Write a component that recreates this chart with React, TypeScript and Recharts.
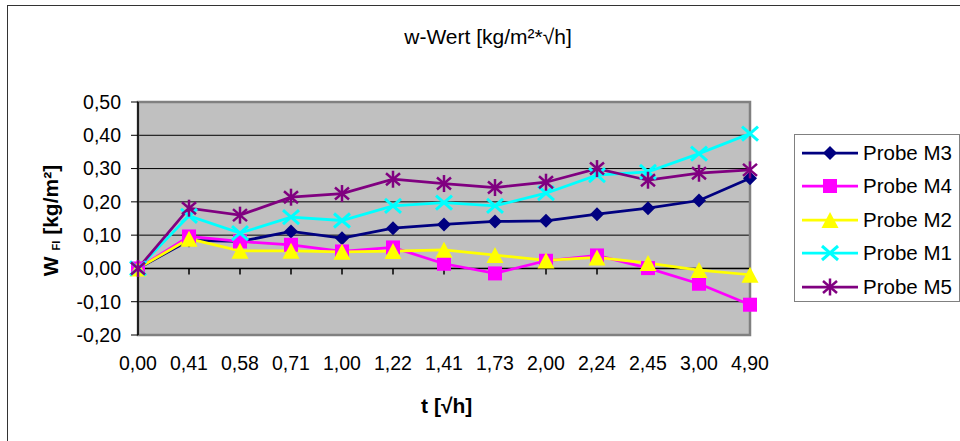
import React from 'react';
import { LineChart, Line, XAxis, YAxis, CartesianGrid, ReferenceLine, ReferenceArea, Legend } from 'recharts';

const categories = ['0,00', '0,41', '0,58', '0,71', '1,00', '1,22', '1,41', '1,73', '2,00', '2,24', '2,45', '3,00', '4,90'];
const probeM3 = [0, 0.084, 0.081, 0.111, 0.091, 0.121, 0.132, 0.141, 0.143, 0.163, 0.181, 0.204, 0.271];
const probeM4 = [0, 0.096, 0.081, 0.071, 0.051, 0.063, 0.014, -0.015, 0.023, 0.039, 0.001, -0.046, -0.109];
const probeM2 = [0, 0.089, 0.053, 0.053, 0.05, 0.052, 0.056, 0.04, 0.024, 0.033, 0.016, -0.005, -0.019];
const probeM1 = [0, 0.158, 0.106, 0.154, 0.144, 0.188, 0.198, 0.188, 0.226, 0.28, 0.29, 0.345, 0.405];
const probeM5 = [0, 0.181, 0.16, 0.214, 0.225, 0.268, 0.255, 0.243, 0.259, 0.3, 0.265, 0.286, 0.296];
const yTicks = [-0.2, -0.1, 0, 0.1, 0.2, 0.3, 0.4, 0.5];

const FONT = 'Arial, "Liberation Sans", sans-serif';

type Shape = 'diamond' | 'square' | 'triangle' | 'cross' | 'star';

const series: Array<{ key: string; name: string; color: string; shape: Shape }> = [
  { key: 'm3', name: 'Probe M3', color: '#000080', shape: 'diamond' },
  { key: 'm4', name: 'Probe M4', color: '#FF00FF', shape: 'square' },
  { key: 'm2', name: 'Probe M2', color: '#FFFF00', shape: 'triangle' },
  { key: 'm1', name: 'Probe M1', color: '#00FFFF', shape: 'cross' },
  { key: 'm5', name: 'Probe M5', color: '#800080', shape: 'star' },
];

const data = categories.map((t, i) => ({
  t,
  m3: probeM3[i],
  m4: probeM4[i],
  m2: probeM2[i],
  m1: probeM1[i],
  m5: probeM5[i],
}));

const fmt = (v: number) => v.toFixed(2).replace('.', ',');

const Marker = ({ shape, cx, cy, color }: { shape: Shape; cx: number; cy: number; color: string }) => {
  switch (shape) {
    case 'diamond':
      return <polygon points={`${cx},${cy - 7} ${cx + 7},${cy} ${cx},${cy + 7} ${cx - 7},${cy}`} fill={color} />;
    case 'square':
      return <rect x={cx - 7} y={cy - 7} width={14} height={14} fill={color} />;
    case 'triangle':
      return <polygon points={`${cx},${cy - 8} ${cx + 8.5},${cy + 8} ${cx - 8.5},${cy + 8}`} fill={color} />;
    case 'cross':
      return (
        <g stroke={color} strokeWidth={3}>
          <line x1={cx - 8} y1={cy - 7} x2={cx + 8} y2={cy + 7} />
          <line x1={cx - 8} y1={cy + 7} x2={cx + 8} y2={cy - 7} />
        </g>
      );
    default:
      return (
        <g stroke={color} strokeWidth={2.5}>
          <line x1={cx - 7} y1={cy - 6} x2={cx + 7} y2={cy + 6} />
          <line x1={cx - 7} y1={cy + 6} x2={cx + 7} y2={cy - 6} />
          <line x1={cx} y1={cy - 8.5} x2={cx} y2={cy + 8.5} />
        </g>
      );
  }
};

const renderLegend = () => (
  <div
    style={{
      boxSizing: 'border-box',
      width: 166,
      height: 168,
      border: '1px solid #808080',
      paddingTop: 1,
      background: '#fff',
    }}
  >
    {series.map((s) => (
      <div key={s.key} style={{ display: 'flex', alignItems: 'center', height: 33.5 }}>
        <svg width={56} height={20} style={{ marginLeft: 7 }}>
          <line x1={0} y1={10} x2={56} y2={10} stroke={s.color} strokeWidth={2.75} />
          <Marker shape={s.shape} cx={28} cy={10} color={s.color} />
        </svg>
        <span style={{ marginLeft: 5, fontSize: 20.5, fontFamily: FONT, color: '#000', whiteSpace: 'nowrap' }}>
          {s.name}
        </span>
      </div>
    ))}
  </div>
);

const App: React.FC = () => {
  return (
    <div
      style={{
        position: 'absolute',
        left: 0,
        top: 0,
        width: 960,
        height: 441,
        overflow: 'hidden',
        background: '#fff',
        fontFamily: FONT,
      }}
    >
      <div style={{ position: 'absolute', left: 7, top: 5, width: 1000, height: 1000, border: '1px solid #333' }} />
      <div
        style={{
          position: 'absolute',
          left: 0,
          top: 26,
          width: 976,
          textAlign: 'center',
          fontSize: 21,
          lineHeight: '21px',
          color: '#000',
        }}
      >
        w-Wert [kg/m²*√h]
      </div>
      <div style={{ position: 'absolute', left: 0, top: 0 }}>
        <LineChart width={960} height={441} data={data} margin={{ top: 102, right: 210, bottom: 0, left: 0 }}>
          <CartesianGrid vertical={false} stroke="#000" fill="#C0C0C0" fillOpacity={1} />
          <ReferenceArea
            x1={categories[0]}
            x2={categories[categories.length - 1]}
            y1={-0.2}
            y2={0.5}
            fill="none"
            stroke="#808080"
            strokeWidth={2.5}
            fillOpacity={0}
          />
          <XAxis
            dataKey="t"
            interval={0}
            height={106}
            axisLine={false}
            tickLine={false}
            tickMargin={15}
            tick={{ fill: '#000', fontSize: 19.5, fontFamily: FONT }}
            label={{
              content: () => (
                <text x={446.7} y={413} textAnchor="middle" fontWeight="bold" fontSize={21} fontFamily={FONT} fill="#000">
                  t [√h]
                </text>
              ),
            }}
          />
          <YAxis
            domain={[-0.2, 0.5]}
            ticks={yTicks}
            width={138}
            interval={0}
            tickFormatter={fmt}
            axisLine={{ stroke: '#000', strokeWidth: 1.5 }}
            tickLine={{ stroke: '#000' }}
            tickSize={7}
            tickMargin={10}
            tick={{ fill: '#000', fontSize: 19.5, fontFamily: FONT }}
            label={{
              content: () => (
                <text
                  transform="translate(58,220.5) rotate(-90)"
                  textAnchor="middle"
                  fontWeight="bold"
                  fontSize={21}
                  fontFamily={FONT}
                  fill="#000"
                >
                  <tspan>W </tspan>
                  <tspan fontSize={11} dy={2}>FI</tspan>
                  <tspan dy={-2}> [kg/m²]</tspan>
                </text>
              ),
            }}
          />
          <ReferenceLine y={0} stroke="#000" strokeWidth={1.5} />
          {categories.map((c) => (
            <ReferenceLine
              key={`tick-${c}`}
              segment={[
                { x: c, y: 0 },
                { x: c, y: -0.018 },
              ]}
              stroke="#000"
              strokeWidth={1.5}
            />
          ))}
          {series.map((s) => (
            <Line
              key={s.key}
              type="linear"
              dataKey={s.key}
              name={s.name}
              stroke={s.color}
              strokeWidth={2.75}
              isAnimationActive={false}
              activeDot={false}
              dot={(p: any) => (
                <Marker key={`${s.key}-${p.index}`} shape={s.shape} cx={p.cx} cy={p.cy} color={s.color} />
              )}
            />
          ))}
          <Legend
            layout="vertical"
            align="center"
            verticalAlign="middle"
            content={renderLegend}
            wrapperStyle={{ left: 794, top: 134, width: 166, height: 168 }}
          />
        </LineChart>
      </div>
    </div>
  );
};

export default App;
